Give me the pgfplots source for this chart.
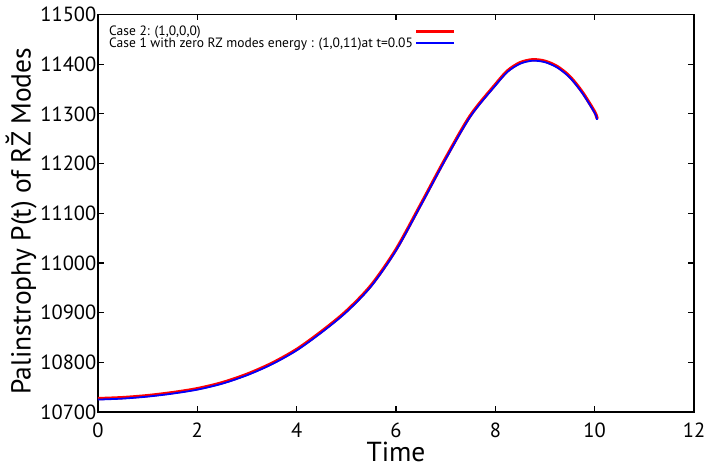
\documentclass[border=0pt]{standalone}
\usepackage{fontspec}
\setmainfont{PT Sans}
\usepackage{pgfplots}
\pgfplotsset{compat=1.18}
\pgfplotstableread{
t v
0 10727
0.5 10729
1 10733
1.5 10739
2 10747
2.5 10759
3 10776
3.5 10798
4 10826
4.5 10862
5 10903
5.5 10955
6 11027
6.5 11118
7 11211
7.5 11297
8 11359
8.25 11387
8.5 11403
8.75 11409
9 11406
9.25 11395
9.5 11375
9.75 11344
10 11304
10.05 11290
}\redtab
\pgfplotstableread{
t v
0 10725
0.5 10727
1 10731
1.5 10737
2 10745
2.5 10757
3 10774
3.5 10796
4 10824
4.5 10860
5 10901
5.5 10953
6 11025
6.5 11116
7 11209
7.5 11295
8 11357
8.25 11385
8.5 11401
8.75 11407
9 11404
9.25 11393
9.5 11373
9.75 11342
10 11302
10.05 11288
}\bluetab
\begin{document}
\begin{tikzpicture}
\begin{axis}[
  name=main,
  scale only axis,
  width=596pt, height=397.5pt,
  xmin=0, xmax=12, ymin=10700, ymax=11500,
  xtick={0,2,...,12},
  ytick={10700,10800,...,11500},
  scaled y ticks=false,
  tick align=inside,
  major tick length=6pt,
  axis line style={line width=1.6pt},
  tick style={line width=1.2pt, black},
  /pgf/number format/assume math mode=true,
  /pgf/number format/set thousands separator={},
  ticklabel style={font=\fontsize{20.5}{22}\selectfont},
  yticklabel style={inner sep=1.5pt},
  xticklabel style={inner sep=0pt, yshift=-11pt},
  xlabel={Time},
  ylabel={Palinstrophy P(t) of R\accent"02D8 Z Modes},
  label style={font=\fontsize{27.5}{30}\selectfont},
  xlabel style={at={(axis description cs:0.5,0)}, anchor=north, inner sep=0pt, yshift=-29.5pt},
  ylabel style={at={(axis description cs:0,0.48)}, anchor=south, inner sep=0pt, yshift=61pt},
  legend plot pos=right,
  legend cell align=left,
  legend style={at={(axis description cs:0,1)}, anchor=north west,
    xshift=7pt, yshift=-7pt, draw=none, fill=none,
    font=\fontsize{13.5}{14}\selectfont, row sep=-3pt, inner sep=2pt},
  legend image code/.code={\draw[#1] plot coordinates {(0pt,0pt) (38pt,0pt)};},
]
\addplot[color=red, line width=3.2pt, smooth] table[x=t,y=v]{\redtab};
\addlegendentry{Case 2: (1,0,0,0)}
\addplot[color=blue, draw=blue, line width=1.8pt, smooth] table[x=t,y=v]{\bluetab};
\addlegendentry{Case 1 with zero RZ modes energy : (1,0,11)at t=0.05}
\end{axis}
\pgfresetboundingbox
\path[use as bounding box] ([xshift=-98pt,yshift=-54pt]main.south west) rectangle ([xshift=10pt,yshift=14.5pt]main.north east);
\end{tikzpicture}
\end{document}
